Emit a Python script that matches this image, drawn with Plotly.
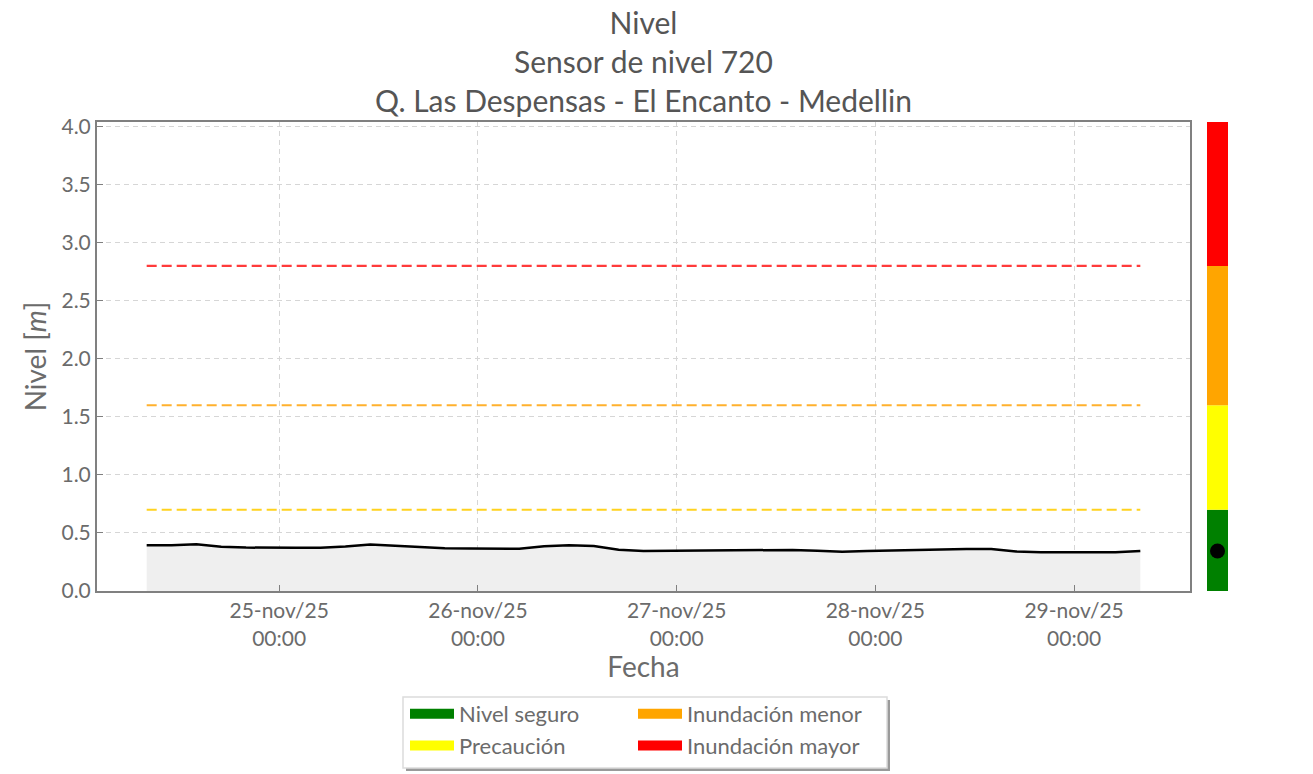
import pandas as pd
import plotly.graph_objects as go

# ---------------- data ----------------
start_time = "2025-11-24 08:00"
step = "3h"
nivel = [0.394, 0.395, 0.403, 0.382, 0.374, 0.371, 0.372, 0.373, 0.383, 0.400,
         0.390, 0.377, 0.368, 0.366, 0.365, 0.363, 0.386, 0.395, 0.388, 0.356,
         0.344, 0.346, 0.347, 0.348, 0.352, 0.356, 0.354, 0.347, 0.338, 0.345,
         0.350, 0.352, 0.363, 0.362, 0.362, 0.340, 0.334, 0.333, 0.332, 0.334,
         0.345]
fechas = pd.date_range(start_time, periods=len(nivel), freq=step)

umbral_names = ["Nivel seguro", "Precaución", "Inundación menor", "Inundación mayor"]
umbral_colors = ["#008000", "#FFFF00", "#FFA500", "#FF0000"]
umbral_bounds = [0.0, 0.7, 1.6, 2.8, 4.04]
line_thresholds = [0.7, 1.6, 2.8]
line_colors = ["#FFD21F", "#FFB12E", "#FF3B3B"]

tick_dates = ["2025-11-25", "2025-11-26", "2025-11-27", "2025-11-28", "2025-11-29"]
tick_text = ["25-nov/25<br>00:00", "26-nov/25<br>00:00", "27-nov/25<br>00:00",
             "28-nov/25<br>00:00", "29-nov/25<br>00:00"]
x_range = ["2025-11-24 02:00", "2025-11-29 14:00"]
y_range = [0, 4.04]

FONT = "Lato"
GREY = "#6b6b6b"

fig = go.Figure()

# main series
fig.add_trace(go.Scatter(x=fechas, y=nivel, mode="lines", fill="tozeroy",
                         fillcolor="#efefef", line=dict(color="black", width=2.5),
                         showlegend=False, xaxis="x", yaxis="y"))

# threshold dashed lines
for thr, col in zip(line_thresholds, line_colors):
    fig.add_trace(go.Scatter(x=[fechas[0], fechas[-1]], y=[thr, thr], mode="lines",
                             line=dict(color=col, width=2.2, dash="10px,5px"),
                             showlegend=False, hoverinfo="skip", xaxis="x", yaxis="y"))

# side bar
for i, (name, col) in enumerate(zip(umbral_names, umbral_colors)):
    fig.add_trace(go.Bar(x=[0], y=[umbral_bounds[i + 1] - umbral_bounds[i]],
                         base=[umbral_bounds[i]], width=1, marker=dict(color=col, line=dict(width=0)),
                         showlegend=False, xaxis="x2", yaxis="y2"))

# current level dot
fig.add_trace(go.Scatter(x=[0], y=[nivel[-1]], mode="markers",
                         marker=dict(color="black", size=15), showlegend=False,
                         xaxis="x2", yaxis="y2"))

# legend entries (two columns)
for i, (name, col) in enumerate(zip(umbral_names, umbral_colors)):
    fig.add_trace(go.Scatter(x=[None], y=[None], mode="lines", name=name,
                             line=dict(color=col, width=16),
                             legend="legend" if i < 2 else "legend2",
                             xaxis="x", yaxis="y"))

W, H = 1313, 774
ml, mr, mt, mb = 97, 85, 122, 183
pw = W - ml - mr
ph = H - mt - mb

def px(xp):
    return (xp - ml) / pw

def py(yp):
    return (H - mb - yp) / ph

axis_common = dict(showline=True, linecolor="#808080", linewidth=2, mirror=True,
                   ticks="inside", ticklen=6, tickcolor="#808080",
                   showgrid=True, gridcolor="#d6d6d6", gridwidth=1, griddash="5px,4px",
                   tickfont=dict(family=FONT, size=21, color=GREY), zeroline=False,
                   automargin=False)

leg_font = dict(family=FONT, size=22, color=GREY)

fig.update_layout(
    width=W, height=H,
    margin=dict(l=ml, r=mr, t=mt, b=mb, autoexpand=False),
    paper_bgcolor="white", plot_bgcolor="white",
    title=dict(text="Nivel<br>Sensor de nivel 720<br>Q. Las Despensas - El Encanto - Medellin",
               x=px(643.5), xref="paper", xanchor="center",
               y=1 - 34 / H, yref="container", yanchor="top",
               font=dict(family=FONT, size=30, color="#555555")),
    xaxis=dict(domain=[0, px(1190)], range=x_range, type="date",
               tickvals=tick_dates, ticktext=tick_text,
               title=dict(text="Fecha", font=dict(family=FONT, size=28, color=GREY), standoff=6),
               **axis_common),
    yaxis=dict(range=y_range, tickvals=[0, 0.5, 1, 1.5, 2, 2.5, 3, 3.5, 4], tickformat=".1f",
               title=dict(text="Nivel [<i>m</i>]", font=dict(family=FONT, size=28, color=GREY), standoff=7),
               **axis_common),
    xaxis2=dict(domain=[px(1207), 1.0], range=[-0.5, 0.5], visible=False, fixedrange=True),
    yaxis2=dict(range=y_range, anchor="x2", visible=False),
    barmode="overlay",
    showlegend=True,
    legend=dict(x=px(405), y=py(693), xanchor="left", yanchor="top", orientation="v",
                bgcolor="rgba(0,0,0,0)", borderwidth=0, itemwidth=44, tracegroupgap=0,
                font=leg_font),
    legend2=dict(x=px(633), y=py(693), xanchor="left", yanchor="top", orientation="v",
                 bgcolor="rgba(0,0,0,0)", borderwidth=0, itemwidth=44, tracegroupgap=0,
                 font=leg_font),
    shapes=[
        dict(type="rect", xref="paper", yref="paper", x0=px(406), x1=px(890), y0=py(771), y1=py(700),
             fillcolor="#9a9a9a", line=dict(width=0), layer="below"),
        dict(type="rect", xref="paper", yref="paper", x0=px(403), x1=px(887), y0=py(768), y1=py(697),
             fillcolor="white", line=dict(color="#dcdcdc", width=1.5), layer="below"),
    ],
)

fig.write_html("out.html", config={"displayModeBar": False},
               post_script="document.body.style.margin='0';document.body.style.overflow='hidden';")
